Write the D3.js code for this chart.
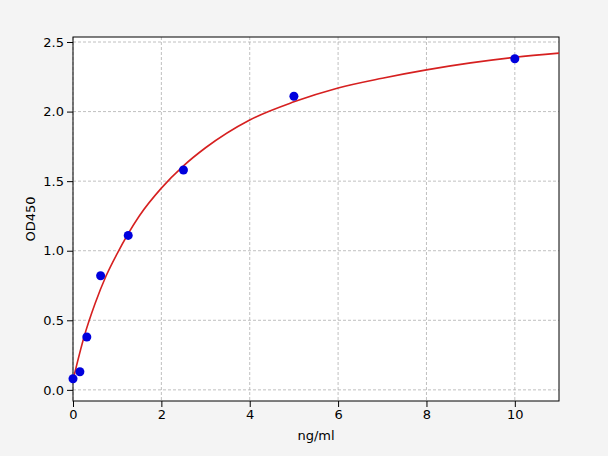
<!DOCTYPE html>
<html><head><meta charset="utf-8">
<script src="https://cdn.jsdelivr.net/npm/d3@7"></script>
<style>body{margin:0;background:#f4f4f4}</style>
</head><body><div id="chart"></div>
<script>
// measured standards
var concX = [0, 0.156, 0.3125, 0.625, 1.25, 2.5, 5, 10];
var odY = [0.08, 0.13, 0.38, 0.82, 1.11, 1.58, 2.11, 2.38];
// fitted curve
var curveX = [0, 0.25, 0.5, 0.75, 1, 1.5, 2, 2.5, 3, 4, 5, 6, 7, 8, 9, 10, 11];
var curveY = [0.07, 0.38, 0.62, 0.82, 0.98, 1.25, 1.45, 1.61, 1.74, 1.94, 2.07, 2.17, 2.24, 2.30, 2.35, 2.39, 2.42];
var xTicks = [0, 2, 4, 6, 8, 10];
var yTicks = [0, 0.5, 1, 1.5, 2, 2.5];

var svg = d3.select("#chart").append("svg").attr("width", 608).attr("height", 456);
var margin = { top: 37, right: 49, bottom: 55, left: 73 },
    width = 608 - margin.left - margin.right,
    height = 456 - margin.top - margin.bottom;

var x = d3.scaleLinear().domain([0, 11]).range([0, width]);
var y = d3.scaleLinear().domain([-0.08, 2.536]).range([height, 0]);

var g = svg.append("g").attr("transform", "translate(" + margin.left + "," + margin.top + ")");
g.append("rect").attr("width", width).attr("height", height).attr("fill", "#fff");

// grid
g.selectAll(".gx").data(xTicks).enter().append("line")
    .attr("x1", d => x(d)).attr("x2", d => x(d)).attr("y1", 0).attr("y2", height)
    .attr("stroke", "#b0b0b0").attr("stroke-dasharray", "3,2").attr("stroke-width", 0.8);
g.selectAll(".gy").data(yTicks).enter().append("line")
    .attr("y1", d => y(d)).attr("y2", d => y(d)).attr("x1", 0).attr("x2", width)
    .attr("stroke", "#b0b0b0").attr("stroke-dasharray", "3,2").attr("stroke-width", 0.8);

var xAxis = g.append("g").attr("transform", "translate(0," + height + ")")
    .call(d3.axisBottom(x).tickValues(xTicks).tickFormat(d3.format("d")).tickSizeOuter(0));
var yAxis = g.append("g")
    .call(d3.axisLeft(y).tickValues(yTicks).tickFormat(d3.format(".1f")).tickSizeOuter(0));
[xAxis, yAxis].forEach(function (a) {
    a.selectAll("text").style("font", "13px 'DejaVu Sans'").attr("fill", "#000");
    a.select(".domain").remove();
});
g.append("rect").attr("width", width).attr("height", height)
    .attr("fill", "none").attr("stroke", "#000").attr("stroke-width", 1);

var line = d3.line().x((d, i) => x(curveX[i])).y(d => y(d)).curve(d3.curveMonotoneX);
g.append("path").attr("d", line(curveY)).attr("fill", "none")
    .attr("stroke", "#d62020").attr("stroke-width", 1.6);

g.selectAll(".pt").data(odY).enter().append("circle")
    .attr("cx", (d, i) => x(concX[i])).attr("cy", d => y(d)).attr("r", 4.5).attr("fill", "#0000dd");

svg.append("text").attr("x", margin.left + width / 2).attr("y", 440)
    .attr("text-anchor", "middle").style("font", "13px 'DejaVu Sans'").text("ng/ml");
svg.append("text").attr("transform", "translate(35," + (margin.top + height / 2) + ") rotate(-90)")
    .attr("text-anchor", "middle").style("font", "13px 'DejaVu Sans'").text("OD450");
</script></body></html>
